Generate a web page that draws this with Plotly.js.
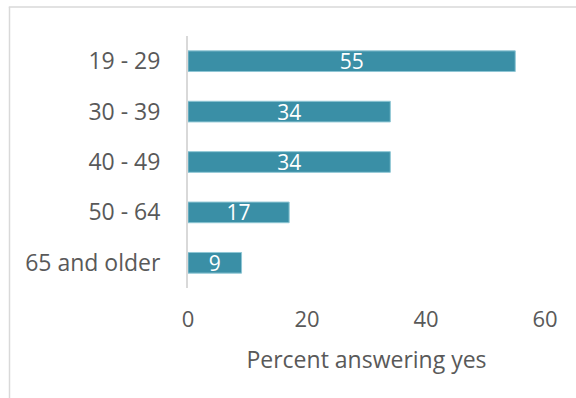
<!DOCTYPE html>
<html>
<head>
<meta charset="utf-8">
<script src="https://cdn.plot.ly/plotly-3.0.1.min.js"></script>
<style>
html,body{margin:0;padding:0;background:#fff;}
#chart{width:576px;height:398px;}
</style>
</head>
<body>
<div id="chart"></div>
<script>
var categories = ["19 - 29", "30 - 39", "40 - 49", "50 - 64", "65 and older"];
var values = [55, 34, 34, 17, 9];
var tickValues = [0, 20, 40, 60];
var axisTitle = "Percent answering yes";

var textGray = "#595959";
var trace = {
  type: "bar",
  orientation: "h",
  x: values,
  y: categories,
  width: 0.41,
  marker: {color: "#3a8fa6", line: {color: "#8ec6d4", width: 1}},
  text: values.map(String),
  textposition: "inside",
  insidetextanchor: "middle",
  textangle: 0,
  constraintext: "none",
  textfont: {family: "Open Sans", size: 21, color: "#ffffff"},
  hoverinfo: "none"
};

var layout = {
  width: 576,
  height: 398,
  margin: {l: 188, r: 31, t: 36, b: 110, pad: 0},
  paper_bgcolor: "#ffffff",
  plot_bgcolor: "#ffffff",
  showlegend: false,
  font: {family: "Open Sans", color: textGray},
  xaxis: {
    range: [0, 60],
    tickvals: tickValues,
    ticktext: tickValues.map(String),
    showgrid: false,
    zeroline: false,
    showline: false,
    ticks: "",
    ticklabelstandoff: 16,
    tickfont: {family: "Open Sans", size: 22, color: textGray},
    title: {text: axisTitle, standoff: 19, font: {family: "Open Sans", size: 23, color: textGray}},
    fixedrange: true
  },
  yaxis: {
    type: "category",
    autorange: "reversed",
    showgrid: false,
    zeroline: false,
    showline: true,
    linecolor: "#d9d9d9",
    linewidth: 2,
    ticks: "",
    ticklabelstandoff: 21,
    tickfont: {family: "Open Sans", size: 23, color: textGray},
    fixedrange: true
  },
  shapes: [
    {type: "line", xref: "paper", yref: "paper", x0: -0.5, x1: -0.5, y0: 1.115, y1: -0.45,
     line: {color: "#d9d9d9", width: 1.5}},
    {type: "line", xref: "paper", yref: "paper", x0: -0.502, x1: 1.1, y0: 1.115, y1: 1.115,
     line: {color: "#d9d9d9", width: 1.5}}
  ]
};

Plotly.newPlot("chart", [trace], layout, {displayModeBar: false, staticPlot: true});
</script>
</body>
</html>
